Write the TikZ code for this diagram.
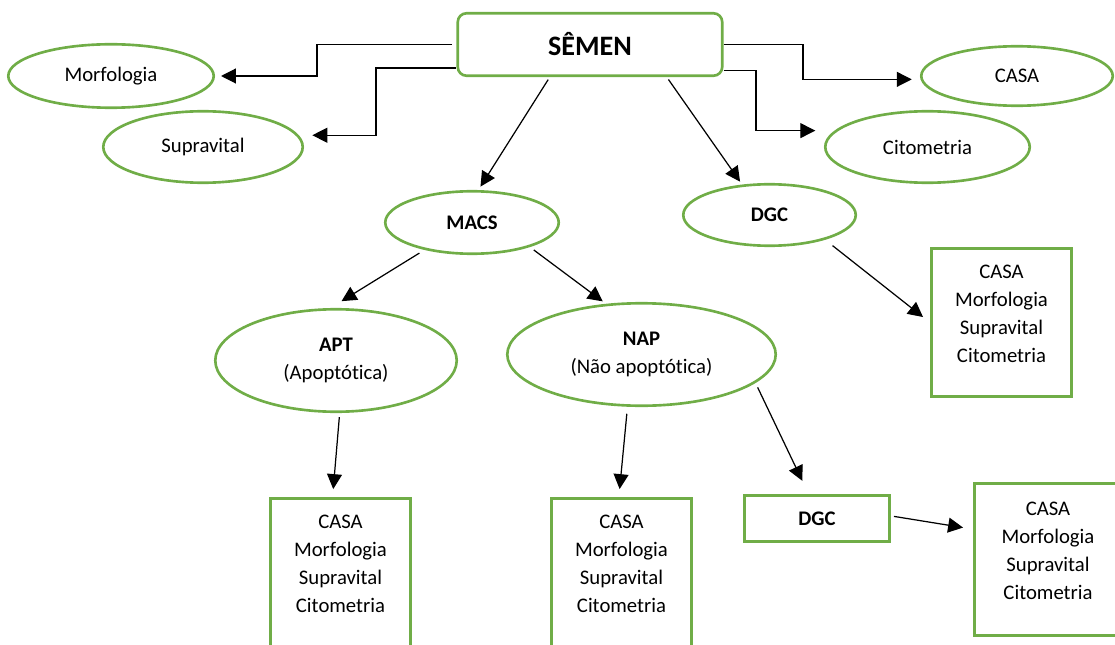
\documentclass[tikz,border=0pt]{standalone}
\usepackage{fontspec}
\setmainfont[Ligatures=NoCommon]{Carlito}
\usetikzlibrary{shapes.geometric,arrows.meta}
\definecolor{verde}{HTML}{70AD47}
\newcommand{\exames}{CASA\\Morfologia\\Supravital\\Citometria\\[-6pt]\mbox{}}

\begin{document}
\begin{tikzpicture}[x=0.02cm, y=-0.02cm,
		every node/.style={font=\fontsize{11.8}{15.9}\selectfont},
		oval/.style={draw=verde, line width=1.5pt, ellipse, inner sep=0pt, align=center},
		caixa/.style={draw=verde, line width=1.5pt, rectangle, inner sep=0pt, align=center},
		seta/.style={-{Triangle[length=8.5pt, width=8.5pt]}, line width=0.7pt}]
				\useasboundingbox (0,0) rectangle (1115,645);
				\clip (0,0) rectangle (1115,645);
				\node[caixa, rounded corners=5pt, minimum width=5.29cm, minimum height=1.25cm, font=\fontsize{16}{19}\selectfont\bfseries] (SEM)at(590, 44.5) {SÊMEN};
				\node[oval, minimum width=4.11cm, minimum height=1.27cm] (MOR)at(111, 76) {Morfologia};
				\node[oval, minimum width=3.99cm, minimum height=1.43cm] (SUP)at(203, 147) {Supravital};
				\node[oval, minimum width=3.83cm, minimum height=1.19cm] (CAS)at(1017, 76) {CASA};
				\node[oval, minimum width=4.09cm, minimum height=1.43cm] (CIT)at(927.5, 147) {Citometria};
				\node[oval, minimum width=3.47cm, minimum height=1.25cm] (MAC)at(472, 222.5) {\textbf{MACS}};
				\node[oval, minimum width=3.45cm, minimum height=1.23cm] (DG)at(769.5, 215) {\textbf{DGC}};
				\node[oval, minimum width=4.83cm, minimum height=2.05cm] (APT)at(336, 360.5) {\textbf{APT}\\(Apoptótica)};
				\node[oval, minimum width=5.37cm, minimum height=2.05cm] (NAP)at(641.5, 354.5) {\textbf{NAP}\\(Não apoptótica)};
				\node[caixa, minimum width=2.81cm, minimum height=2.97cm] (RD)at(1001.5, 322.5) {\exames};
				\node[caixa, minimum width=2.81cm, minimum height=2.97cm] (RA)at(340.5, 572.5) {\exames};
				\node[caixa, minimum width=2.81cm, minimum height=2.97cm] (RN)at(621.5, 572.5) {\exames};
				\node[caixa, minimum width=2.91cm, minimum height=0.93cm] (DR)at(817, 518.5) {\textbf{DGC}};
				\node[caixa, minimum width=2.95cm, minimum height=3.05cm] (RR)at(1048, 559.5) {\exames};
				\draw[seta, shorten <=2.5pt, shorten >=3.4pt] (SEM.west) -- ++(-139.5,0) |- (MOR);
				\draw[seta, shorten >=7.7pt] (SEM.190) -- ++(-80.5,0) |- (SUP.7);
				\draw[seta, shorten >=5pt] (SEM.east) -- ++(79.5,0) |- (CAS.182);
				\draw[seta, shorten >=11pt] (SEM.-11) -- ++(32.5,0) |- (CIT.170);
				\draw[seta, shorten <=1.7pt, shorten >=2.3pt] (SEM.219) -- (MAC.79);
				\draw[seta, shorten <=1.7pt, shorten >=2pt] (SEM.-23) -- (DG.132);
				\draw[seta, shorten <=3.4pt, shorten >=7.4pt] (MAC.210) -- (APT.96);
				\draw[seta, shorten <=2.8pt, shorten >=2.3pt] (MAC.-23) -- (NAP.125);
				\draw[seta, shorten <=5.4pt, shorten >=5pt] (DG.-24) -- (RD.west);
				\draw[seta, shorten <=2.3pt, shorten >=4.5pt] (APT.-86) -- (RA.96);
				\draw[seta, shorten <=4pt, shorten >=4.5pt] (NAP.255) -- (RN.92);
				\draw[seta, shorten <=2.8pt, shorten >=8.3pt] (NAP.-14) -- (DR.109);
				\draw[seta, shorten <=1.7pt, shorten >=5.7pt] (DR.2) -- (RR.158);
			\end{tikzpicture}
\end{document}
